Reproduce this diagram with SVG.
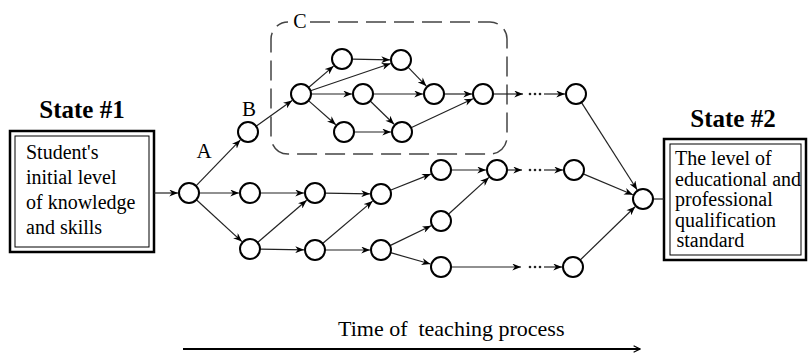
<svg xmlns="http://www.w3.org/2000/svg" width="808" height="353" viewBox="0 0 808 353">
  <style>
    .node { fill: #fff; stroke: #000; stroke-width: 2; }
    .edge { fill: none; stroke: #222; stroke-width: 1.2; marker-end: url(#arr); }
    .plain { fill: none; stroke: #222; stroke-width: 1.2; }
    .dot { fill: #222; }
    .txt { font-family: "Liberation Serif", "Times New Roman", serif; font-size: 20px; fill: #000; }
    .title { font-family: "Liberation Serif", "Times New Roman", serif; font-size: 25px; font-weight: bold; fill: #000; text-anchor: middle; }
    .lbl { font-family: "Liberation Serif", "Times New Roman", serif; font-size: 21px; fill: #000; text-anchor: middle; }
    .outer { fill: #fff; stroke: #000; stroke-width: 2.5; }
    .inner { fill: none; stroke: #000; stroke-width: 1; }
  </style>
  <defs>
    <marker id="arr" viewBox="0 0 10 8" refX="10" refY="4" markerWidth="9" markerHeight="7" markerUnits="userSpaceOnUse" orient="auto">
      <path d="M0,0 L10,4 L0,8 L3,4 z" fill="#000"/>
    </marker>
    <marker id="open" viewBox="0 0 10 10" refX="9" refY="5" markerWidth="8" markerHeight="8" markerUnits="userSpaceOnUse" orient="auto">
      <path d="M1,1 L9,5 L1,9" fill="none" stroke="#000" stroke-width="1.5"/>
    </marker>
  </defs>

  <!-- start state -->
  <g id="state1">
    <text class="title" x="82" y="118">State #1</text>
    <rect class="outer" x="10" y="131" width="144" height="121"/>
    <rect class="inner" x="15" y="136" width="134" height="111"/>
    <text class="txt" x="26" y="159">Student's</text>
    <text class="txt" x="26" y="184">initial level</text>
    <text class="txt" x="26" y="209">of knowledge</text>
    <text class="txt" x="26" y="234">and skills</text>
  </g>

  <!-- target state -->
  <g id="state2">
    <text class="title" x="733" y="127">State #2</text>
    <rect class="outer" x="664" y="139" width="142" height="121"/>
    <rect class="inner" x="670" y="144" width="131" height="111"/>
    <text class="txt" x="675" y="165">The level of</text>
    <text class="txt" x="675" y="185.5">educational and</text>
    <text class="txt" x="675" y="206">professional</text>
    <text class="txt" x="675" y="226.5">qualification</text>
    <text class="txt" x="676.5" y="247">standard</text>
  </g>

  <!-- dashed cluster C -->
  <g id="cluster-c">
    <path d="M310,22 H490 A17,17 0 0 1 507,39 V137 A17,17 0 0 1 490,154 H288 A17,17 0 0 1 271,137 V39 A17,17 0 0 1 288,22" fill="none" stroke="#444" stroke-width="1.5" stroke-dasharray="20 8"/>
    <text class="lbl" x="300" y="28" style="font-size:20px">C</text>
  </g>

  <!-- connectors -->
  <g id="connectors">
    <line class="edge" x1="154" y1="193" x2="178" y2="193"/>
    <line class="edge" x1="196" y1="185.8" x2="240.4" y2="139.9"/>
    <line class="edge" x1="256.1" y1="126.2" x2="292.1" y2="100.4"/>
    <line class="edge" x1="308.6" y1="87.5" x2="333.6" y2="66.1"/>
    <line class="edge" x1="310.5" y1="90.8" x2="390.6" y2="63.5"/>
    <line class="edge" x1="311" y1="94" x2="352" y2="94"/>
    <line class="edge" x1="308.5" y1="100.6" x2="335.8" y2="124.7"/>
    <line class="edge" x1="352" y1="59.2" x2="390" y2="59.8"/>
    <line class="edge" x1="408" y1="67.2" x2="426.3" y2="86.1"/>
    <line class="edge" x1="373" y1="94" x2="423" y2="94"/>
    <line class="edge" x1="370.2" y1="101" x2="394.1" y2="124.3"/>
    <line class="edge" x1="354" y1="132" x2="391" y2="132"/>
    <line class="edge" x1="444" y1="94" x2="472" y2="94"/>
    <line class="edge" x1="411" y1="127.8" x2="473" y2="98.7"/>
    <line class="edge" x1="493" y1="94" x2="523" y2="94"/>
    <line class="edge" x1="544" y1="94" x2="565" y2="94"/>
    <line class="edge" x1="199" y1="193" x2="239" y2="193"/>
    <line class="edge" x1="196.4" y1="199.8" x2="241.9" y2="241.6"/>
    <line class="edge" x1="260" y1="193" x2="304" y2="193"/>
    <line class="edge" x1="257.6" y1="242.5" x2="306.7" y2="200.2"/>
    <line class="edge" x1="260" y1="249.2" x2="304" y2="249.8"/>
    <line class="edge" x1="325" y1="193.2" x2="370" y2="193.8"/>
    <line class="edge" x1="322.6" y1="243.5" x2="372.6" y2="201.1"/>
    <line class="edge" x1="325" y1="250" x2="370" y2="250"/>
    <line class="edge" x1="390.3" y1="190.3" x2="430.8" y2="174.1"/>
    <line class="edge" x1="390" y1="245.6" x2="431.1" y2="225.8"/>
    <line class="edge" x1="390.6" y1="252.7" x2="430.4" y2="264"/>
    <line class="edge" x1="451" y1="170" x2="486" y2="170"/>
    <line class="edge" x1="448.4" y1="214.3" x2="488.9" y2="177.4"/>
    <line class="edge" x1="507" y1="170" x2="522" y2="170"/>
    <line class="edge" x1="544" y1="170" x2="563" y2="170"/>
    <line class="edge" x1="451" y1="267" x2="521" y2="267"/>
    <line class="edge" x1="544" y1="267" x2="562" y2="267"/>
    <line class="edge" x1="581.4" y1="102.4" x2="637.1" y2="189.7"/>
    <line class="edge" x1="583.2" y1="173.9" x2="632.9" y2="194.7"/>
    <line class="edge" x1="580.2" y1="260" x2="635.1" y2="206.7"/>
    <line class="plain" x1="653" y1="199" x2="664" y2="199"/>
    <!-- elided steps -->
    <circle class="dot" cx="530" cy="94" r="1.3"/><circle class="dot" cx="535" cy="94" r="1.3"/><circle class="dot" cx="540" cy="94" r="1.3"/>
    <circle class="dot" cx="530" cy="170" r="1.3"/><circle class="dot" cx="535" cy="170" r="1.3"/><circle class="dot" cx="540" cy="170" r="1.3"/>
    <circle class="dot" cx="530" cy="267" r="1.3"/><circle class="dot" cx="535" cy="267" r="1.3"/><circle class="dot" cx="540" cy="267" r="1.3"/>
  </g>

  <!-- edge labels -->
  <text class="lbl" x="204" y="158">A</text>
  <text class="lbl" x="249" y="116">B</text>

  <!-- nodes -->
  <g id="n-start"><circle class="node" cx="189" cy="193" r="10"/></g>
  <g id="n-b"><circle class="node" cx="248" cy="132" r="10"/></g>
  <g id="n-hub"><circle class="node" cx="301" cy="94" r="10"/></g>
  <g id="n-t1"><circle class="node" cx="342" cy="59" r="10"/></g>
  <g id="n-t2"><circle class="node" cx="401" cy="60" r="10"/></g>
  <g id="n-m1"><circle class="node" cx="363" cy="94" r="10"/></g>
  <g id="n-m2"><circle class="node" cx="434" cy="94" r="10"/></g>
  <g id="n-b1"><circle class="node" cx="344" cy="132" r="10"/></g>
  <g id="n-b2"><circle class="node" cx="402" cy="132" r="10"/></g>
  <g id="n-r"><circle class="node" cx="483" cy="94" r="10"/></g>
  <g id="n-r-end"><circle class="node" cx="576" cy="94" r="10"/></g>
  <g id="n-ma"><circle class="node" cx="250" cy="193" r="10"/></g>
  <g id="n-mb"><circle class="node" cx="315" cy="193" r="10"/></g>
  <g id="n-mc"><circle class="node" cx="381" cy="194" r="10"/></g>
  <g id="n-la"><circle class="node" cx="250" cy="249" r="10"/></g>
  <g id="n-lb"><circle class="node" cx="315" cy="250" r="10"/></g>
  <g id="n-lc"><circle class="node" cx="381" cy="250" r="10"/></g>
  <g id="n-u1"><circle class="node" cx="441" cy="170" r="10"/></g>
  <g id="n-u2"><circle class="node" cx="497" cy="170" r="10"/></g>
  <g id="n-u3"><circle class="node" cx="574" cy="170" r="10"/></g>
  <g id="n-v1"><circle class="node" cx="441" cy="221" r="10"/></g>
  <g id="n-w1"><circle class="node" cx="441" cy="267" r="10"/></g>
  <g id="n-w3"><circle class="node" cx="573" cy="267" r="10"/></g>
  <g id="n-final"><circle class="node" cx="643" cy="199" r="10"/></g>

  <!-- time axis -->
  <g id="time-axis">
    <text class="txt" x="338" y="336" xml:space="preserve" style="font-size:22px;white-space:pre">Time of  teaching process</text>
    <line x1="183" y1="349" x2="640" y2="349" stroke="#000" stroke-width="2" marker-end="url(#open)"/>
  </g>
</svg>
